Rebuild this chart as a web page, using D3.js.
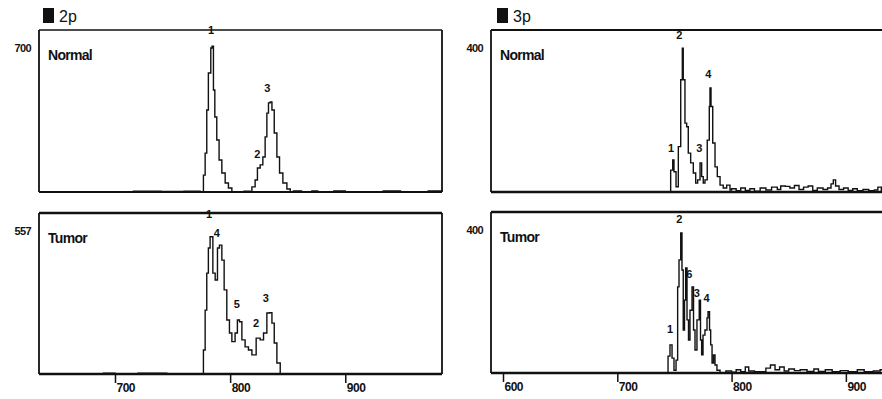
<!DOCTYPE html>
<html>
<head>
<meta charset="utf-8">
<script src="https://cdn.jsdelivr.net/npm/d3@7"></script>
<style>
  body { margin: 0; background: #fff; }
  svg { display: block; font-family: "Liberation Sans", Arial, sans-serif; }
  .tick text { font-size: 12px; font-weight: bold; fill: #111; }
  .tick line { stroke: #111; stroke-width: 1.5; }
</style>
</head>
<body>
<svg id="chart" width="882" height="399"></svg>
<script>
// x ticks (fragment size) per column
var ticks2p = [700, 800, 900];
var ticks3p = [600, 700, 800, 900];

// traces: [size, signal]
var normal2p = [[634,0],[700,0],[716,3],[740,2],[760,3],[774,0],[776.8,73],[778.3,168],[779.7,354],[781.1,514],[783.2,622],[784.3,630],[785.5,441],[786.7,324],[788.4,225],[790.4,138],[792.8,82],[795.7,39],[798.5,17],[801.5,0],[812,3],[817.4,0],[818.9,22],[821.7,52],[823.7,104],[826.1,117],[828.4,151],[830.4,238],[831.9,341],[833.3,385],[834.8,389],[836.3,354],[838.3,255],[840.6,151],[842.9,82],[845.8,39],[849.3,13],[852.2,0],[855,4],[862,0],[871,5],[876,0],[890,5],[900,0],[933,5],[948,0],[972,5],[984,4]];

var tumor2p = [[634,0],[690,3],[700,0],[720,3],[745,0],[774.8,0],[776.8,83],[778.3,221],[779.7,349],[781.1,436],[782.6,475],[785.0,349],[787.0,325],[789.0,436],[790.7,446],[792.8,394],[794.8,291],[797.1,187],[799.4,142],[801.5,112],[804.3,142],[806.3,187],[808.1,181],[810.2,118],[813.0,94],[815.9,83],[818.9,66],[822.6,124],[826.1,118],[829.0,142],[831.9,211],[834.2,212],[836.3,176],[838.3,107],[840.6,38],[843.5,0],[984,0]];

var normal3p = [[589.5,0],[744.4,0],[746.7,54],[748.5,79],[749.6,50],[751.4,13],[753.4,112],[755.5,277],[756.9,355],[757.7,277],[759.2,170],[760.7,161],[762.1,96],[764.2,72],[766.5,47],[768.6,22],[770.3,30],[772.4,72],[773.8,38],[775.2,22],[776.7,30],[778.7,128],[780.5,211],[781.1,257],[782.0,211],[783.5,121],[785.5,62],[787.5,38],[789.9,17],[792.7,10],[795.7,17],[798.6,5],[800,8],[804,3],[808,10],[812,4],[816,8],[820,2],[825,10],[830,5],[835,12],[840,6],[843,15],[847,14],[851,10],[855,16],[859,6],[863,12],[867,15],[871,4],[875,10],[880,6],[884,10],[887,20],[889,30],[891,15],[894,6],[898,10],[902,4],[906,8],[910,3],[915,6],[920,3],[925,5],[928,12],[931,3],[935,5],[938.6,2]];

var tumor3p = [[589.5,0],[740.9,0],[744.4,42],[746.1,70],[747.9,37],[749.6,7],[751.4,32],[752.8,214],[754.0,281],[755.5,348],[756.6,256],[757.7,107],[758.8,181],[759.8,261],[761.0,132],[762.3,82],[763.6,156],[765.4,214],[766.7,107],[768.0,57],[769.7,132],[771.7,181],[772.8,82],[773.8,45],[775.0,94],[776.7,107],[778.5,137],[779.4,152],[780.7,107],[781.7,70],[782.9,25],[784.2,45],[785.5,20],[787.2,7],[789.9,0],[795,5],[800,2],[804,8],[808,3],[812,15],[815,5],[820,3],[830,12],[834,20],[838,8],[842,15],[846,5],[850,10],[855,6],[860,8],[866,4],[872,10],[876,4],[882,8],[888,3],[895,6],[902,3],[910,8],[916,3],[924,5],[930,8],[938.6,2]];

// peak numbers: [size, signal, label]
var peaksNormal2p = [[783.5,683,"1"],[832.2,432,"3"],[823.5,147,"2"]];
var peaksTumor2p = [[781.7,540,"1"],[788.4,474,"4"],[805.8,228,"5"],[822.6,163,"2"],[831.0,249,"3"]];
var peaksNormal3p = [[754.2,378,"2"],[779.6,281,"4"],[747,99,"1"],[771.7,99,"3"]];
var peaksTumor3p = [[754.2,373,"2"],[763,236,"6"],[769.5,189,"3"],[778.2,176,"4"],[746.1,99,"1"]];

var svg = d3.select("#chart");

var panels = [
  {name:"Normal", data:normal2p, peaks:peaksNormal2p, ymax:700, xd:[634,984], xr:[39,442], yr:[192,30], ticks:null, topW:1.3, botW:2},
  {name:"Tumor", data:tumor2p, peaks:peaksTumor2p, ymax:557, xd:[634,984], xr:[39,442], yr:[374,213], ticks:ticks2p, topW:2.5, botW:2.5},
  {name:"Normal", data:normal3p, peaks:peaksNormal3p, ymax:400, xd:[589.5,938.6], xr:[491,890], yr:[192,30], ticks:null, topW:2, botW:2.5},
  {name:"Tumor", data:tumor3p, peaks:peaksTumor3p, ymax:400, xd:[589.5,938.6], xr:[491,890], yr:[373,212], ticks:ticks3p, topW:2.5, botW:2.5}
];

panels.forEach(function(p){
  var x = d3.scaleLinear().domain(p.xd).range(p.xr);
  var y = d3.scaleLinear().domain([0,p.ymax]).range(p.yr);
  var g = svg.append("g");

  // frame
  g.append("line").attr("x1",p.xr[0]).attr("x2",p.xr[1]).attr("y1",p.yr[1]).attr("y2",p.yr[1])
    .attr("stroke","#111").attr("stroke-width",p.topW);
  g.append("line").attr("x1",p.xr[0]).attr("x2",p.xr[1]).attr("y1",p.yr[0]).attr("y2",p.yr[0])
    .attr("stroke","#111").attr("stroke-width",p.botW);
  g.append("line").attr("x1",p.xr[0]).attr("x2",p.xr[0]).attr("y1",p.yr[1]).attr("y2",p.yr[0])
    .attr("stroke","#111").attr("stroke-width",1.8);
  g.append("line").attr("x1",p.xr[1]).attr("x2",p.xr[1]).attr("y1",p.yr[1]).attr("y2",p.yr[0])
    .attr("stroke","#111").attr("stroke-width",1.8);

  var line = d3.line().x(function(d){return x(d[0]);}).y(function(d){return y(d[1]);}).curve(d3.curveStepAfter);
  g.append("path").datum(p.data).attr("d",line).attr("fill","none")
    .attr("stroke","#111").attr("stroke-width",1.4);

  g.selectAll(".pk").data(p.peaks).enter().append("text")
    .attr("x",function(d){return x(d[0]);}).attr("y",function(d){return y(d[1]);})
    .attr("text-anchor","middle").attr("font-size",11).attr("font-weight","bold")
    .attr("fill","#111").text(function(d){return d[2];});

  g.append("text").attr("x",p.xr[0]+9).attr("y",p.yr[1]+30)
    .attr("font-size",14).attr("font-weight","bold").attr("letter-spacing",-0.7)
    .attr("fill","#111").text(p.name);

  g.append("text").attr("x",p.xr[0]-8).attr("y",p.yr[1]+22)
    .attr("text-anchor","end").attr("font-size",11).attr("font-weight","bold")
    .attr("letter-spacing",-0.6).attr("fill","#111").text(p.ymax);

  if (p.ticks) {
    var ax = g.append("g").attr("transform","translate(0,"+p.yr[0]+")")
      .call(d3.axisBottom(x).tickValues(p.ticks).tickSize(9).tickFormat(d3.format("d")));
    ax.select(".domain").remove();
    ax.selectAll(".tick text").attr("text-anchor","start").attr("x",1).attr("y",9).attr("letter-spacing",-0.5);
  }
});

// column headers
[["2p",43],["3p",497]].forEach(function(h){
  svg.append("rect").attr("x",h[1]).attr("y",8).attr("width",11).attr("height",15).attr("fill","#111");
  svg.append("text").attr("x",h[1]+16).attr("y",22).attr("font-size",16)
    .attr("fill","#111").text(h[0]);
});
</script>
</body>
</html>
